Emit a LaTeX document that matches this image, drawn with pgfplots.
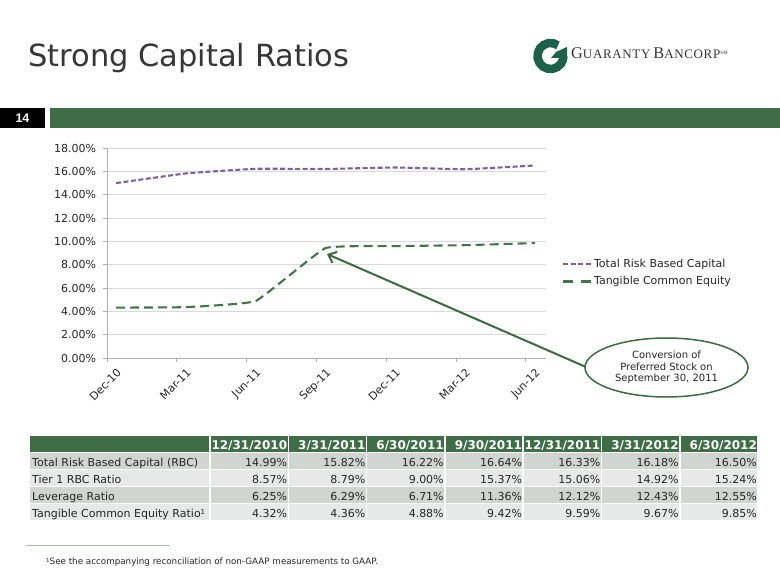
\documentclass[border=0pt]{standalone}
\usepackage{fontspec}
\setmainfont{DejaVu Sans}
\newfontfamily\logofont{Liberation Serif}
\newfontfamily\boxfont{Liberation Sans}
\usepackage{pgfplots}
\pgfplotsset{compat=1.18}
\usetikzlibrary{arrows.meta}
\definecolor{titlegray}{HTML}{363636}
\definecolor{barGreen}{HTML}{3F6E46}
\definecolor{logoGreen}{HTML}{1E6049}
\definecolor{purp}{HTML}{7E60A2}
\definecolor{tceGreen}{HTML}{44744A}
\definecolor{arrowGreen}{HTML}{3B6B3E}
\definecolor{axisgray}{HTML}{B0B0B0}
\definecolor{gridgray}{HTML}{D9D9D9}
\definecolor{rowdark}{HTML}{D0D5D2}
\definecolor{rowlight}{HTML}{E7E9E8}
\definecolor{ticktext}{HTML}{262626}
\definecolor{footline}{HTML}{A3BFA6}
\begin{document}
\begin{tikzpicture}
\useasboundingbox (0pt,0pt) rectangle (780pt,-585pt);
% ---------- logo G (normal orientation) ----------
\draw[logoGreen, line width=8.5pt] (550.5pt,-56pt) ++(55:13pt) arc[start angle=55, end angle=360, radius=13pt];
\fill[logoGreen] (551pt,-58pt) -- (567pt,-58pt) -- (567pt,-47pt) -- (556pt,-52pt) -- cycle;
\begin{scope}[x=1pt,y=-1pt]
% title
\node[anchor=base west, inner sep=0, text=titlegray, font=\fontsize{30.5}{32}\selectfont] at (28,67) {Strong Capital Ratios};
% logo text
\node[anchor=base west, inner sep=0, text=titlegray] at (571,58.5) {\logofont\addfontfeatures{LetterSpace=5}{\fontsize{16.3}{16}\selectfont G}{\fontsize{13}{16}\selectfont UARANTY} {\fontsize{16.3}{16}\selectfont B}{\fontsize{13}{16}\selectfont ANCORP}\raisebox{4pt}{\fontsize{5}{5}\selectfont SM}};
% page number box and bar
\fill[black] (0,108) rectangle (45,128);
\node[text=white, font=\boxfont\bfseries\fontsize{12.5}{12}\selectfont] at (22.5,118) {14};
\fill[barGreen] (50,108) rectangle (780,128);
% ---------- table ----------
\fill[barGreen] (30,436) rectangle (758,452.5);
\foreach \r/\c in {0/rowdark,1/rowlight,2/rowdark,3/rowlight}
  \fill[\c] (30,{452.5+17*\r}) rectangle (758,{469.5+17*\r});
\foreach \k in {0,...,7}
  \draw[white, line width=1.5pt] ({210+78.3*\k},436) -- ({210+78.3*\k},521.5);
\foreach \r in {0,...,4}
  \draw[white, line width=1.3pt] (30,{452.5+17*\r}) -- (758,{452.5+17*\r});
\begin{scope}[font=\fontsize{12}{14}\selectfont\bfseries, text=white]
\foreach \v [count=\k] in {12/31/2010,3/31/2011,6/30/2011,9/30/2011,12/31/2011,3/31/2012,6/30/2012}
  \node[anchor=base east, inner sep=0] at ({210+78.3*\k-1},449.5) {\v};
\end{scope}
\begin{scope}[font=\fontsize{11}{13}\selectfont, text=ticktext]
\node[anchor=base west, inner sep=0] at (32,466.5) {Total Risk Based Capital (RBC)};
\node[anchor=base west, inner sep=0] at (32,483.5) {Tier 1 RBC Ratio};
\node[anchor=base west, inner sep=0] at (32,500.5) {Leverage Ratio};
\node[anchor=base west, inner sep=0] at (32,517.5) {Tangible Common Equity Ratio\raisebox{3pt}{\fontsize{7}{7}\selectfont 1}};
\foreach \v [count=\k] in {14.99,15.82,16.22,16.64,16.33,16.18,16.50}
  \node[anchor=base east, inner sep=0] at ({210+78.3*\k-1},466.5) {\v\%};
\foreach \v [count=\k] in {8.57,8.79,9.00,15.37,15.06,14.92,15.24}
  \node[anchor=base east, inner sep=0] at ({210+78.3*\k-1},483.5) {\v\%};
\foreach \v [count=\k] in {6.25,6.29,6.71,11.36,12.12,12.43,12.55}
  \node[anchor=base east, inner sep=0] at ({210+78.3*\k-1},500.5) {\v\%};
\foreach \v [count=\k] in {4.32,4.36,4.88,9.42,9.59,9.67,9.85}
  \node[anchor=base east, inner sep=0] at ({210+78.3*\k-1},517.5) {\v\%};
\end{scope}
% footnote
\draw[footline, line width=1.5pt] (26,545.5) -- (170,545.5);
\node[anchor=base west, inner sep=0, text=ticktext, font=\fontsize{8.75}{10}\selectfont] at (46,565) {\raisebox{2.5pt}{\fontsize{5.5}{5}\selectfont 1}See the accompanying reconciliation of non-GAAP measurements to GAAP.};
\end{scope}
% ---------- chart ----------
\begin{axis}[
  at={(107pt,-358pt)}, anchor=south west,
  scale only axis, width=439pt, height=210pt,
  xmin=-0.13, xmax=6.16, ymin=0, ymax=18,
  axis x line=bottom, axis y line=left,
  axis line style={axisgray, line width=0.8pt, -},
  ytick={0,2,...,18}, ymajorgrids,
  grid style={gridgray, line width=0.8pt},
  /pgf/number format/assume math mode=true,
  yticklabel={\pgfmathprintnumber[fixed,fixed zerofill,precision=2]{\tick}\%},
  ticklabel style={font=\fontsize{11}{13}\selectfont, text=ticktext},
  yticklabel style={xshift=-3.5pt},
  tick align=outside, major tick length=4pt,
  ytick style={axisgray, line width=0.8pt},
  xtick={0,...,6},
  xticklabels={Dec-10,Mar-11,Jun-11,Sep-11,Dec-11,Mar-12,Jun-12},
  xtick style={draw=none},
  xticklabel style={rotate=45, anchor=north east, inner sep=1pt},
  xticklabel shift=4pt,
  clip=false,
  legend style={at={(rel axis cs:1.036,0.407)}, anchor=west, draw=none, fill=none,
    font=\fontsize{11}{13}\selectfont, text=ticktext, row sep=4pt, inner sep=0pt,
    cells={anchor=west}},
  legend image code/.code={\draw[#1] (0pt,0pt) -- (28pt,0pt);},
]
\addplot[purp, line width=2.1pt, dash pattern=on 5pt off 2.5pt, smooth, tension=0.2]
  coordinates {(0,14.99) (1,15.82) (2,16.22) (3,16.20) (4,16.33) (5,16.18) (6,16.50)};
\addlegendentry{Total Risk Based Capital}
\addplot[tceGreen, line width=2.1pt, dash pattern=on 9pt off 5pt, smooth, tension=0.18,
  legend image post style={dash pattern=on 10pt off 8pt}]
  coordinates {(0,4.32) (1,4.36) (2,4.88) (3,9.42) (4,9.59) (5,9.67) (6,9.85)};
\addlegendentry{Tangible Common Equity}
\foreach \t in {-0.13,0.87,1.87,2.87,3.87,4.87,5.87}
  {\edef\tmp{\noexpand\draw[axisgray, line width=0.8pt] (axis cs:\t,0) -- ++(0pt,-4pt);}\tmp}
\end{axis}
% ---------- annotation ----------
\begin{scope}[x=1pt,y=-1pt]
\draw[arrowGreen, line width=2pt, -{Straight Barb[length=7pt, width=12pt, line width=2pt]}] (586,367) -- (327,254);
\draw[arrowGreen, line width=1.5pt, fill=white] (666.5,367.5) ellipse [x radius=81.5pt, y radius=29.5pt];
\node[align=center, text=ticktext, font=\fontsize{10}{11.5}\selectfont] at (666.5,367.5) {Conversion of\\Preferred Stock on\\September 30, 2011};
\end{scope}
\end{tikzpicture}
\end{document}
